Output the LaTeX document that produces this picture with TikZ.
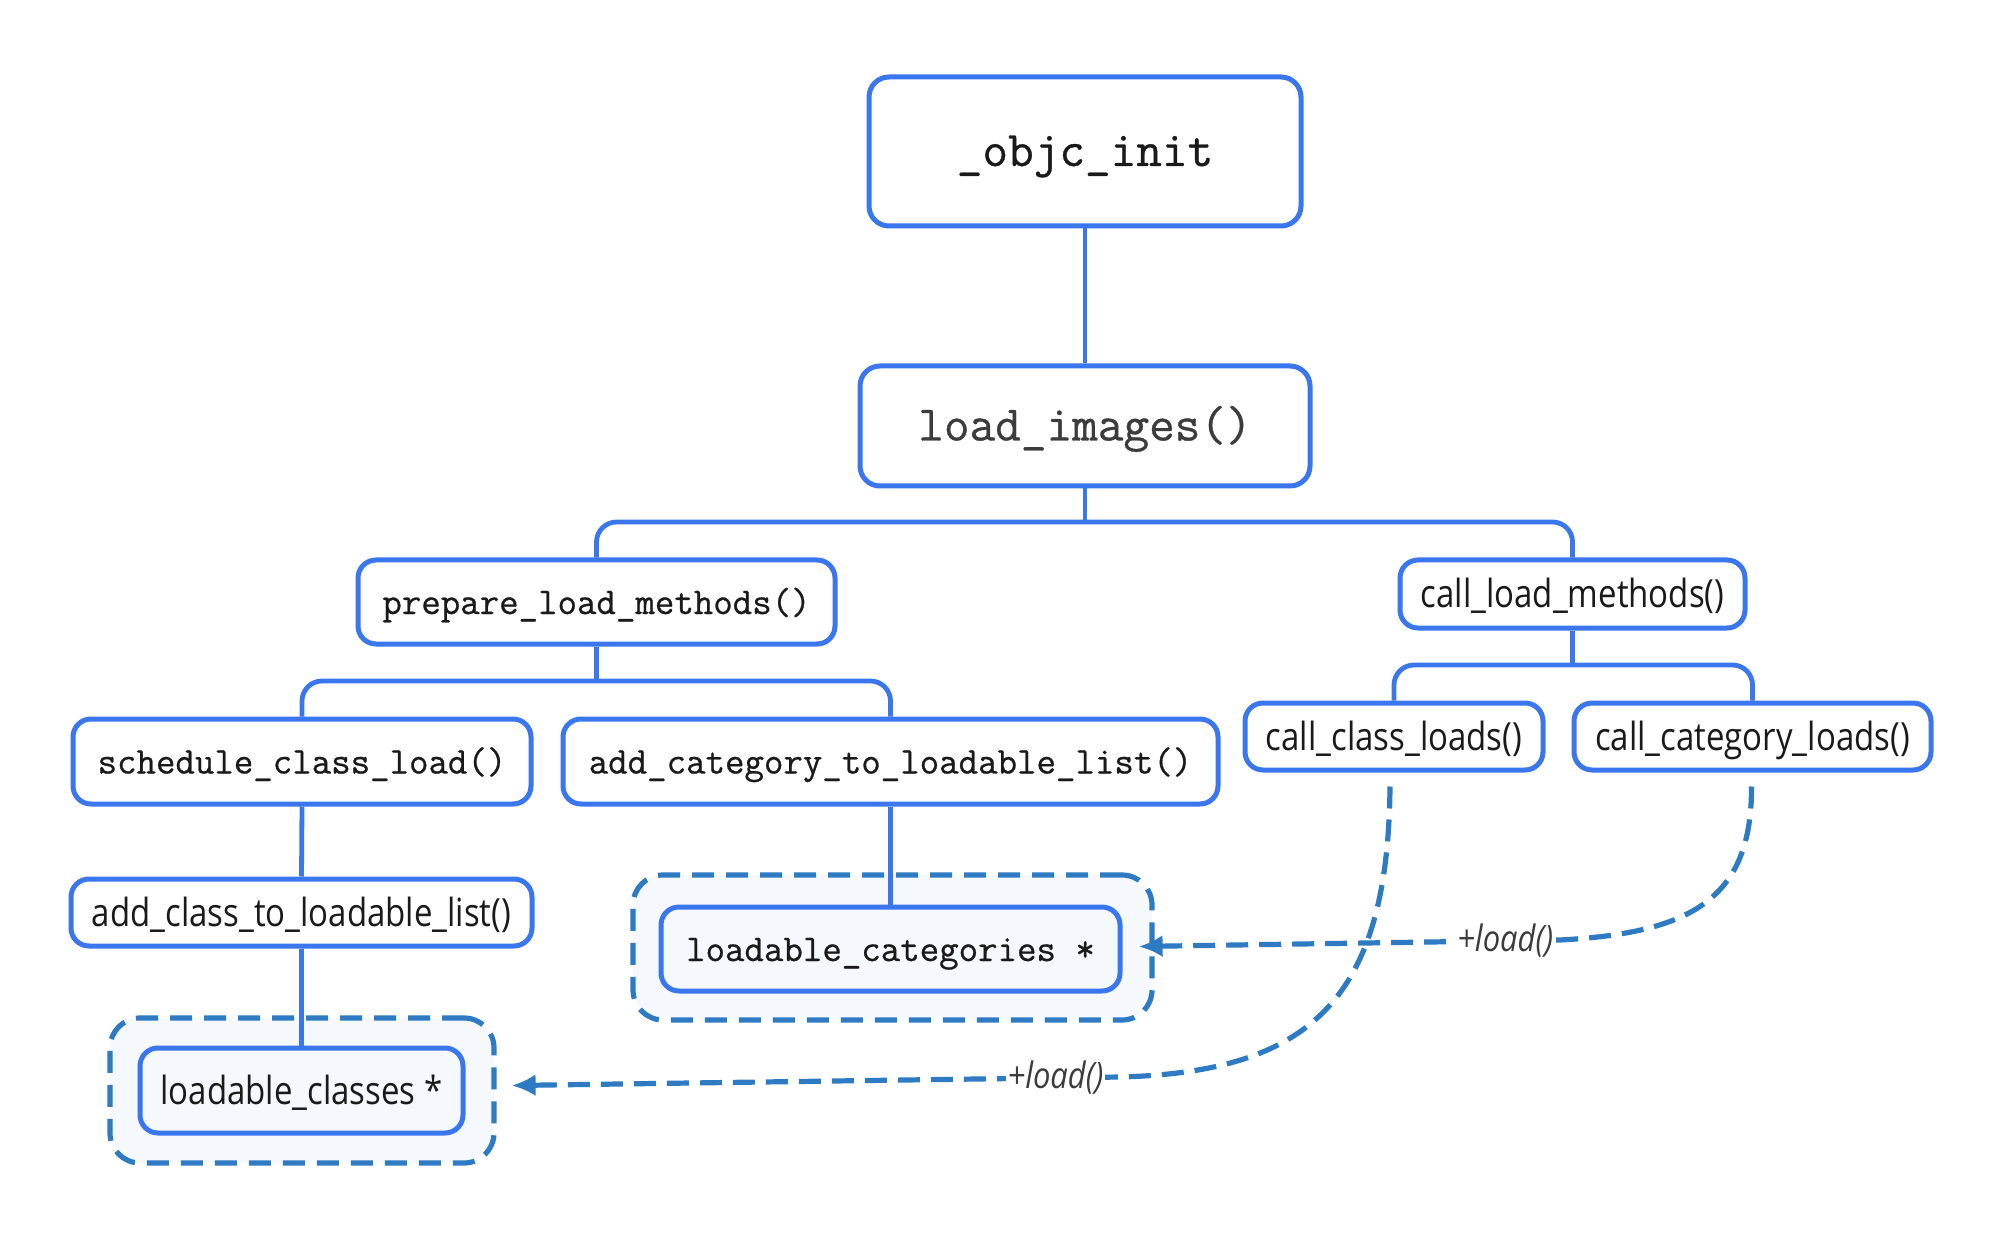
\documentclass[tikz,border=0pt]{standalone}
\usepackage{fontspec}
\newfontfamily\sansf[FakeStretch=0.85]{Open Sans}
\newfontfamily\monof[FakeBold=0.7]{Latin Modern Mono}
\usetikzlibrary{arrows.meta}
\definecolor{boxblue}{HTML}{3A76EE}
\definecolor{dashblue}{HTML}{2E7BC4}
\definecolor{softfill}{HTML}{F5F8FC}
\definecolor{ink}{HTML}{1A1A1A}
\begin{document}
\begin{tikzpicture}[x=0.5pt,y=-0.5pt,
  box/.style={draw=boxblue, line width=2.5pt, rounded corners=9pt, fill=white, inner sep=0pt, text=ink},
  bigbox/.style={box, rounded corners=10pt, text height=16.5pt, text depth=2pt, font=\monof\fontsize{24.9}{28}\selectfont},
  monobox/.style={box, text height=14pt, text depth=2pt, font=\monof\fontsize{18.9}{22}\selectfont},
  sansbox/.style={box, text height=16pt, text depth=2pt, font=\sansf\fontsize{19.4}{23}\selectfont},
  container/.style={draw=dashblue, line width=2.6pt, dash pattern=on 11pt off 6pt, rounded corners=15pt, fill=softfill, inner sep=0pt},
  link/.style={draw=boxblue, line width=2.4pt},
  call/.style={draw=dashblue, line width=2.6pt, dash pattern=on 11pt off 5.5pt, -{Latex[length=12pt,width=11pt]}},
  calllabel/.style={fill=white, inner sep=1pt, font=\sansf\itshape\fontsize{18.2}{22}\selectfont, text=ink!85}
]
\path[fill=white] (0,0) rectangle (2000,1234);
\useasboundingbox (0,0) rectangle (2000,1234);

% containers
\node[container, minimum width=192pt, minimum height=72.5pt] (cont1) at (302,1090.5) {};
\node[container, minimum width=259.5pt, minimum height=72.5pt] (cont2) at (892.5,947.5) {};

% boxes
\node[bigbox, minimum width=216pt, minimum height=74.5pt] (objc) at (1085,151.5) {\_objc\_init};
\node[bigbox, minimum width=225pt, minimum height=60pt, text=ink!85] (load) at (1085,426) {load\_images()};
\node[monobox, minimum width=238.5pt, minimum height=42pt] (prep) at (596.5,602) {prepare\_load\_methods()};
\node[sansbox, minimum width=172.5pt, minimum height=34pt] (clm) at (1572.5,594) {call\_load\_methods()};
\node[monobox, minimum width=229pt, minimum height=42.5pt] (scl) at (302,761.5) {schedule\_class\_load()};
\node[monobox, minimum width=327.5pt, minimum height=42.5pt] (acat) at (890.5,761.5) {add\_category\_to\_loadable\_list()};
\node[sansbox, minimum width=149pt, minimum height=33.5pt] (ccl) at (1394,736.5) {call\_class\_loads()};
\node[sansbox, minimum width=178.5pt, minimum height=33.5pt] (ccat) at (1752.5,736.5) {call\_category\_loads()};
\node[sansbox, minimum width=230.5pt, minimum height=33.5pt] (acl) at (301.5,912.5) {add\_class\_to\_loadable\_list()};
\node[sansbox, fill=softfill, minimum width=161.5pt, minimum height=42.5pt] (lcls) at (301.5,1090.5) {loadable\_classes *};
\node[monobox, fill=softfill, minimum width=229.5pt, minimum height=42pt] (lcat) at (890.5,949) {loadable\_categories *};

% tree connectors
\draw[link] (objc.south) -- (load.north);
\coordinate (busA) at (1085,522);
\draw[link] (load.south) -- (busA);
\draw[link, rounded corners=10pt] (prep.north) |- (busA) -| (clm.north);
\coordinate (busB) at (596.5,681);
\draw[link] (prep.south) -- (busB);
\draw[link, rounded corners=10pt] (scl.north) |- (busB) -| (acat.north);
\coordinate (busC) at (1572.5,665);
\draw[link] (clm.south) -- (busC);
\draw[link, rounded corners=10pt] (ccl.north) |- (busC) -| (ccat.north);
\draw[link] (scl.south) -- (acl.north);
\draw[link] (acl.south) -- (lcls.north);
\draw[link] (acat.south) -- (lcat.north);

% dashed calls
\coordinate (aEnd) at (1120,1077);
\draw[call] ([xshift=-2pt,yshift=-7pt]ccl.south) .. controls (1388,1000) and (1310,1072) .. (aEnd) -- ([xshift=7.5pt,yshift=2.5pt]cont1.east) node[calllabel, pos=0.106] {+load()};
\coordinate (bEnd) at (1560,940);
\draw[call] ([xshift=-0.5pt,yshift=-7pt]ccat.south) .. controls (1752,900) and (1690,933) .. (bEnd) -- ([xshift=-8pt,yshift=0.5pt]cont2.east) node[calllabel, pos=0.13] {+load()};
\end{tikzpicture}
\end{document}
